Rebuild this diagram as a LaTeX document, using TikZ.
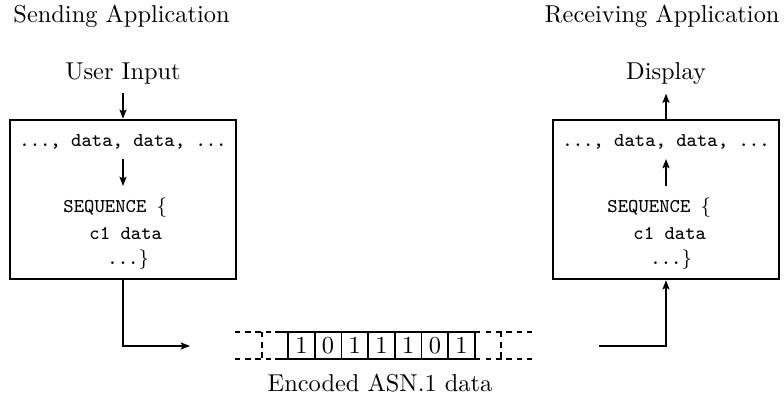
\documentclass[tikz,border=0pt]{standalone}
\usetikzlibrary{arrows.meta}
\begin{document}
\begin{tikzpicture}[x=0.41pt,y=-0.41pt,
  box/.style={draw,line width=1pt,minimum width=92.66pt,minimum height=65.19pt,inner sep=0pt},
  conn/.style={line width=0.8pt,-{Stealth[length=3.8pt,width=2.9pt,inset=0.8pt]}},
  ttx/.style={font=\ttfamily\footnotesize,inner sep=0pt},
  lbl/.style={font=\normalsize},
  cell/.style={draw,line width=0.7pt,minimum width=10.95pt,minimum height=11.07pt,inner sep=0pt},
  strip/.style={line width=0.8pt},
  dsh/.style={line width=0.8pt,dash pattern=on 2.2pt off 2pt},
  vdsh/.style={line width=1.1pt,dash pattern=on 2.2pt off 2pt}]
\useasboundingbox (0,0) rectangle (784,404);

% titles
\node[lbl,anchor=base west,inner sep=0pt] (stitle) at (13,23) {Sending Application};
\node[lbl,anchor=base east,inner sep=0pt] (rtitle) at (780,23) {Receiving Application};
\node[lbl,anchor=base] (uin) at (123,80) {User Input};
\node[lbl,anchor=base] (disp) at (666,80) {Display};
\node[lbl,anchor=base,inner sep=0pt] (enc) at (380,392) {Encoded ASN.1 data};

% boxes
\node[box] (lbox) at (123,199.5) {};
\node[box] (rbox) at (666,199.5) {};

% left box contents
\node[ttx,anchor=base] (ld) at (123,147) {..., data, data, ...};
\node[ttx,anchor=base west] (ls1) at (63,213) {SEQUENCE $\{$};
\node[ttx,anchor=base west] (ls2) at (89,240) {c1 data};
\node[ttx,anchor=base west] (ls3) at (107,265) {...$\}$};
\coordinate (la1) at (123,159);
\coordinate (la2) at (123,186);

% right box contents
\node[ttx,anchor=base] (rd) at (666,147) {..., data, data, ...};
\node[ttx,anchor=base west] (rs1) at (607,213) {SEQUENCE $\{$};
\node[ttx,anchor=base west] (rs2) at (633,240) {c1 data};
\node[ttx,anchor=base west] (rs3) at (650,265) {...$\}$};
\coordinate (ra1) at (666,186);
\coordinate (ra2) at (666,159);

% connectors
\draw[conn] (uin.south) -- (lbox.north);
\draw[conn] (la1) -- (la2);
\draw[conn] (rbox.north) -- (disp.south);
\draw[conn] (ra1) -- (ra2);
\coordinate (send) at (190,346);
\coordinate (recv) at (599,346);
\draw[conn] (lbox.south) |- (send);
\draw[conn] (recv) -| (rbox.south);

% bit strip
\draw[strip] (275,332) -- (480,332);
\draw[strip] (275,359) -- (480,359);
\foreach \b [count=\i] in {1,0,1,1,1,0,1}
  \node[cell] (b\i) at ({301.35+26.7*(\i-1)},345.5) {\b};
\draw[dsh] (235,332) -- (272,332);
\draw[dsh] (235,359) -- (272,359);
\draw[vdsh] (262,332) -- (262,359);
\draw[dsh] (486,332) -- (533,332);
\draw[dsh] (486,359) -- (533,359);
\draw[vdsh] (501,332) -- (501,359);
\end{tikzpicture}
\end{document}
